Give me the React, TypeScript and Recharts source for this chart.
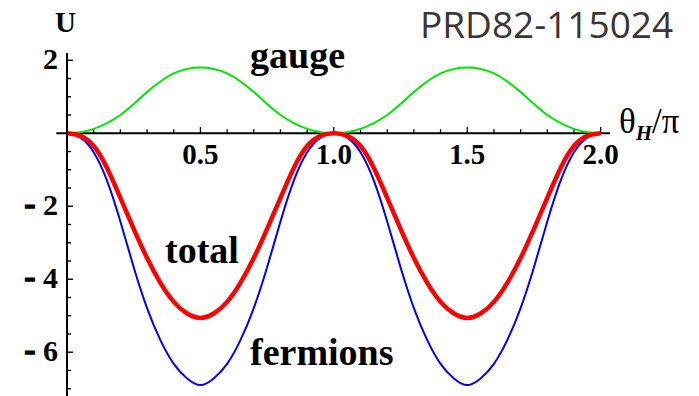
import { LineChart, Line, XAxis, YAxis, ReferenceLine } from 'recharts';

// theta_H / pi sampled every 0.05 over two periods
const thetaValues = [
  0, 0.05, 0.1, 0.15, 0.2, 0.25, 0.3, 0.35, 0.4, 0.45, 0.5,
  0.55, 0.6, 0.65, 0.7, 0.75, 0.8, 0.85, 0.9, 0.95, 1.0,
  1.05, 1.1, 1.15, 1.2, 1.25, 1.3, 1.35, 1.4, 1.45, 1.5,
  1.55, 1.6, 1.65, 1.7, 1.75, 1.8, 1.85, 1.9, 1.95, 2.0,
];

const gaugeValues = [
  0, 0.03, 0.12, 0.28, 0.5, 0.8, 1.13, 1.42, 1.64, 1.76, 1.8,
  1.76, 1.64, 1.42, 1.13, 0.8, 0.5, 0.28, 0.12, 0.03, 0,
  0.03, 0.12, 0.28, 0.5, 0.8, 1.13, 1.42, 1.64, 1.76, 1.8,
  1.76, 1.64, 1.42, 1.13, 0.8, 0.5, 0.28, 0.12, 0.03, 0,
];

const fermionValues = [
  0, -0.12, -0.52, -1.3, -2.42, -3.67, -4.79, -5.67, -6.32, -6.72, -6.9,
  -6.72, -6.32, -5.67, -4.79, -3.67, -2.42, -1.3, -0.52, -0.12, 0,
  -0.12, -0.52, -1.3, -2.42, -3.67, -4.79, -5.67, -6.32, -6.72, -6.9,
  -6.72, -6.32, -5.67, -4.79, -3.67, -2.42, -1.3, -0.52, -0.12, 0,
];

const totalValues = [
  0, -0.07, -0.35, -0.95, -1.77, -2.62, -3.42, -4.1, -4.62, -4.94, -5.06,
  -4.94, -4.62, -4.1, -3.42, -2.62, -1.77, -0.95, -0.35, -0.07, 0,
  -0.07, -0.35, -0.95, -1.77, -2.62, -3.42, -4.1, -4.62, -4.94, -5.06,
  -4.94, -4.62, -4.1, -3.42, -2.62, -1.77, -0.95, -0.35, -0.07, 0,
];

const xTicks = [
  0.1, 0.2, 0.3, 0.4, 0.5, 0.6, 0.7, 0.8, 0.9, 1.0,
  1.1, 1.2, 1.3, 1.4, 1.5, 1.6, 1.7, 1.8, 1.9, 2.0,
];
const xTickLabels = ['0.5', '1.0', '1.5', '2.0'];

const yTicks = [-7, -6.5, -6, -5.5, -5, -4.5, -4, -3.5, -3, -2.5, -2, -1.5, -1, -0.5, 0.5, 1, 1.5, 2];
const yTickLabels = [2, -2, -4, -6];

const data = thetaValues.map((t, i) => ({
  theta: t,
  gauge: gaugeValues[i],
  total: totalValues[i],
  fermions: fermionValues[i],
}));

const serif = '"Liberation Serif", "Times New Roman", serif';

function YTick(props: any) {
  const { x, y, payload } = props;
  const v = payload.value;
  const labelled = yTickLabels.includes(v);
  return (
    <g>
      <line x1={x} x2={x + (labelled ? 6 : 4)} y1={y} y2={y} stroke="#000" strokeWidth={1.4} />
      {labelled && (
        <text x={x - 9} y={y + 9} textAnchor="end" fontFamily={serif} fontWeight="bold" fontSize={30} fill="#000">
          {Math.abs(v)}
        </text>
      )}
      {labelled && v < 0 && (
        <text
          x={x - 37}
          y={y + 9}
          textAnchor="middle"
          fontFamily={serif}
          fontWeight="bold"
          fontSize={34}
          fill="#000"
          stroke="#000"
          strokeWidth={1.3}
        >
          -
        </text>
      )}
    </g>
  );
}

function xLabel(text: string) {
  return (props: any) => {
    const vb = props.viewBox;
    return (
      <text
        x={vb.x + vb.width / 2}
        y={vb.y + vb.height + 31}
        textAnchor="middle"
        fontFamily={serif}
        fontWeight="bold"
        fontSize={29}
        fill="#000"
      >
        {text}
      </text>
    );
  };
}

export default function App() {
  return (
    <div style={{ position: 'absolute', left: 0, top: 0, width: 699, height: 396, background: '#fff' }}>
      <LineChart width={699} height={396} data={data} margin={{ top: 53, right: 85, bottom: 0, left: 7 }}>
        <XAxis dataKey="theta" type="number" domain={[0, 2.05]} allowDataOverflow hide />
        <YAxis
          type="number"
          domain={[-7.2, 2.2]}
          allowDataOverflow
          ticks={yTicks}
          interval={0}
          width={60}
          tickSize={0}
          tickMargin={0}
          tickLine={false}
          axisLine={{ stroke: '#000', strokeWidth: 2 }}
          tick={<YTick />}
        />
        <ReferenceLine
          segment={[{ x: -0.04, y: 0 }, { x: 2.035, y: 0 }]}
          stroke="#000"
          strokeWidth={2}
          ifOverflow="visible"
        />
        {xTicks.map((t, i) => {
          const major = (i + 1) % 5 === 0;
          return (
            <ReferenceLine
              key={t}
              segment={[{ x: t, y: 0 }, { x: t, y: major ? 0.17 : 0.11 }]}
              stroke="#000"
              strokeWidth={1.3}
              ifOverflow="visible"
              label={major ? xLabel(xTickLabels[(i + 1) / 5 - 1]) : undefined}
            />
          );
        })}
        <Line type="natural" dataKey="gauge" stroke="#00e600" strokeWidth={2} dot={false} isAnimationActive={false} />
        <Line type="natural" dataKey="fermions" stroke="#0000ff" strokeWidth={2} dot={false} isAnimationActive={false} />
        <Line type="natural" dataKey="total" stroke="#ff0000" strokeWidth={4.5} dot={false} isAnimationActive={false} />
      </LineChart>
      <svg width={699} height={396} style={{ position: 'absolute', left: 0, top: 0, pointerEvents: 'none' }}>
        <text x={420} y={38} fontFamily='"Open Sans", sans-serif' fontSize={37} fill="#3b3536">
          PRD82-115024
        </text>
        <text x={55} y={32} fontFamily={serif} fontWeight="bold" fontSize={29} fill="#000">U</text>
        <text x={250} y={68} fontFamily={serif} fontWeight="bold" fontSize={38} fill="#000">gauge</text>
        <text x={165} y={263} fontFamily={serif} fontWeight="bold" fontSize={38} fill="#000">total</text>
        <text x={250} y={365} fontFamily={serif} fontWeight="bold" fontSize={38} fill="#000">fermions</text>
        <text x={619} y={133} fontFamily={serif} fontSize={35} fill="#000">
          θ
          <tspan fontStyle="italic" fontWeight="bold" fontSize={21} dy={7}>H</tspan>
          <tspan fontSize={35} dy={-7}>/π</tspan>
        </text>
      </svg>
    </div>
  );
}
